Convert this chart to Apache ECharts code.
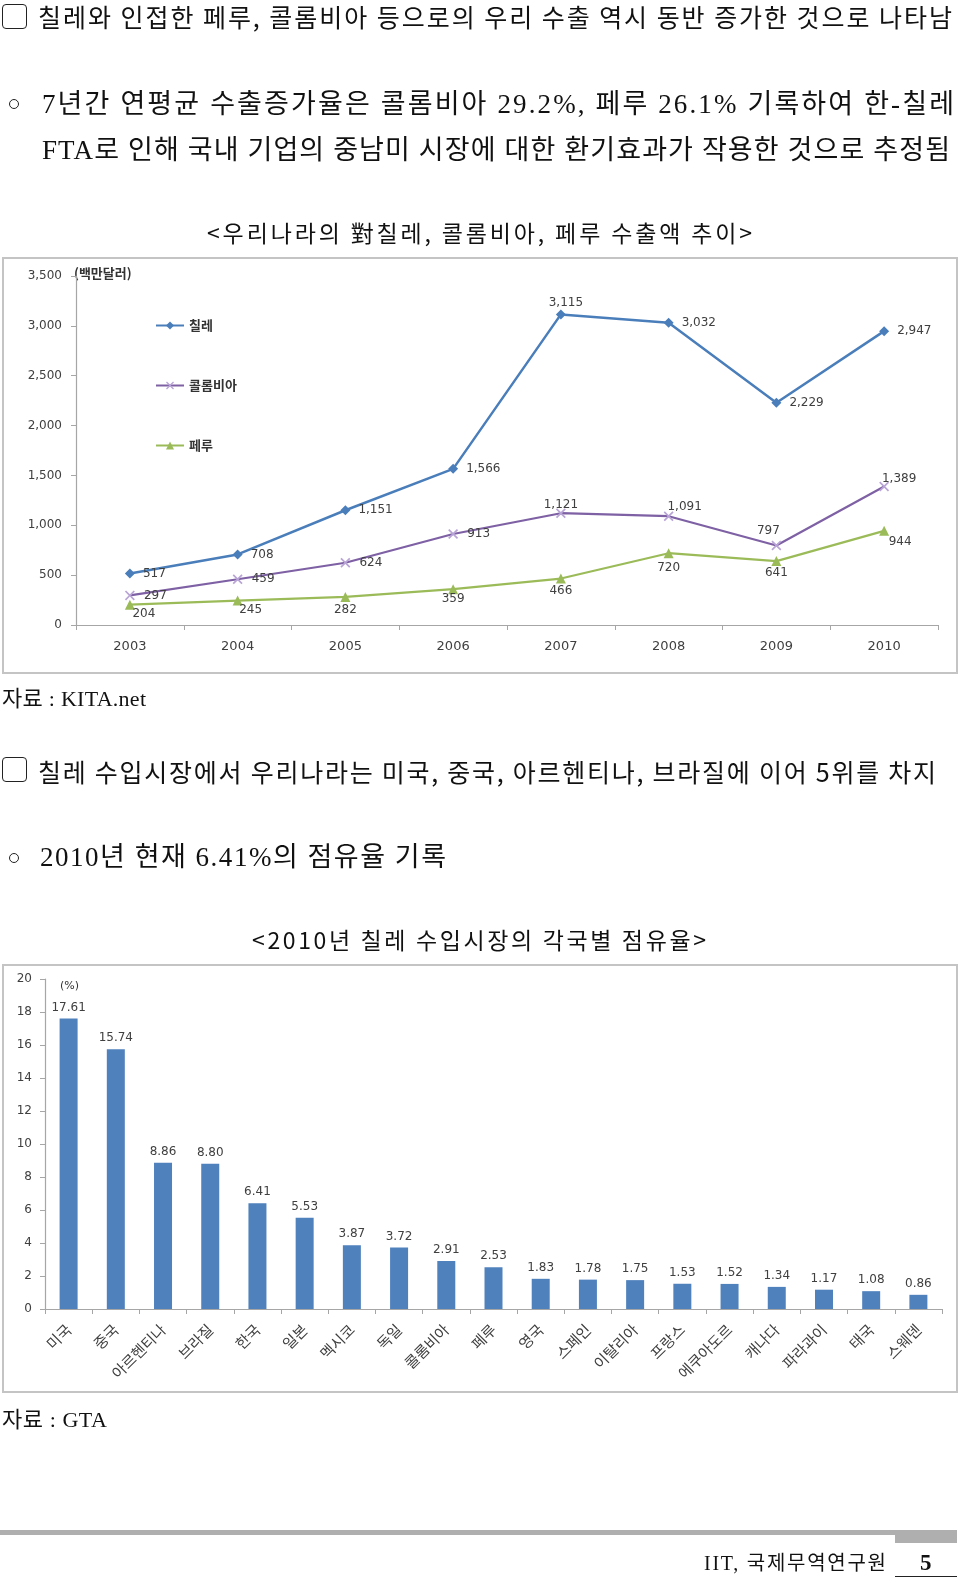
<!DOCTYPE html>
<html><head><meta charset="utf-8">
<script src="https://cdn.jsdelivr.net/npm/echarts@6/dist/echarts.min.js"></script>
<style>
html,body{margin:0;padding:0;background:#fff;}
#page{position:relative;width:960px;height:1578px;overflow:hidden;background:#fff;}
#chart{position:absolute;left:0;top:0;width:960px;height:1578px;}
.t{position:absolute;white-space:nowrap;color:#111;}
.sans{font-family:"Noto Sans CJK KR",sans-serif;}
.serif{font-family:"Liberation Serif","Noto Sans CJK KR",serif;}
.box{position:absolute;border:1.6px solid #222;border-radius:4px;box-sizing:border-box;}
.circ{position:absolute;border:1.4px solid #222;border-radius:50%;box-sizing:border-box;}
.bar{position:absolute;background:#AFAFAF;}
</style></head>
<body>
<div id="page">
<div id="chart"></div>
<div class="box" style="left:2px;top:4px;width:25px;height:25px"></div>
<div class="t sans" data-l="38" data-r="952" data-c="16" data-fs="25">칠레와 인접한 페루, 콜롬비아 등으로의 우리 수출 역시 동반 증가한 것으로 나타남</div>
<div class="circ" style="left:9px;top:99px;width:10px;height:10px"></div>
<div class="t serif" data-l="42" data-r="954" data-c="104" data-fs="27">7년간 연평균 수출증가율은 콜롬비아 29.2%, 페루 26.1% 기록하여 한-칠레</div>
<div class="t serif" data-l="42" data-r="950" data-c="150" data-fs="27">FTA로 인해 국내 기업의 중남미 시장에 대한 환기효과가 작용한 것으로 추정됨</div>
<div class="t sans" data-l="207" data-r="752" data-c="232" data-fs="23">&lt;우리나라의 對칠레, 콜롬비아, 페루 수출액 추이&gt;</div>
<div class="t serif" data-l="2" data-r="146" data-c="698" data-fs="22">자료 : KITA.net</div>
<div class="box" style="left:2px;top:757px;width:25px;height:25px"></div>
<div class="t sans" data-l="38" data-r="936" data-c="771" data-fs="25">칠레 수입시장에서 우리나라는 미국, 중국, 아르헨티나, 브라질에 이어 5위를 차지</div>
<div class="circ" style="left:9px;top:853px;width:10px;height:10px"></div>
<div class="t serif" data-l="40" data-r="446" data-c="857" data-fs="27">2010년 현재 6.41%의 점유율 기록</div>
<div class="t sans" data-l="252" data-r="706" data-c="939" data-fs="23">&lt;2010년 칠레 수입시장의 각국별 점유율&gt;</div>
<div class="t serif" data-l="2" data-r="107" data-c="1419" data-fs="22">자료 : GTA</div>
<div class="bar" style="left:0;top:1530px;width:895px;height:5px"></div>
<div class="bar" style="left:895px;top:1530px;width:62px;height:13px"></div>
<div class="t serif" data-l="704" data-r="886" data-c="1563" data-fs="20">IIT, 국제무역연구원</div>
<div class="t serif" style="left:920px;top:1549px;font-size:23px;line-height:28px;font-weight:bold;">5</div>
<div style="position:absolute;left:895px;top:1576px;width:62px;height:1px;background:#222"></div>
</div>
<script>
// ---- data ----
const years = ['2003','2004','2005','2006','2007','2008','2009','2010'];
const chile = [517, 708, 1151, 1566, 3115, 3032, 2229, 2947];
const colombia = [297, 459, 624, 913, 1121, 1091, 797, 1389];
const peru = [204, 245, 282, 359, 466, 720, 641, 944];
const seriesNames = ['칠레', '콜롬비아', '페루'];

const countries = ['미국','중국','아르헨티나','브라질','한국','일본','멕시코','독일','콜롬비아','페루','영국','스페인','이탈리아','프랑스','에쿠아도르','캐나다','파라과이','태국','스웨덴'];
const shares = [17.61, 15.74, 8.86, 8.80, 6.41, 5.53, 3.87, 3.72, 2.91, 2.53, 1.83, 1.78, 1.75, 1.53, 1.52, 1.34, 1.17, 1.08, 0.86];

// ---- text fitting ----
document.querySelectorAll('.t[data-l]').forEach(el => {
  const fs = +el.dataset.fs, l = +el.dataset.l, r = +el.dataset.r, c = +el.dataset.c;
  const lh = Math.round(fs * 1.4);
  el.style.fontSize = fs + 'px';
  el.style.lineHeight = lh + 'px';
  el.style.left = l + 'px';
  el.style.top = (c - lh / 2) + 'px';
  el.style.letterSpacing = '0px';
  const w = el.getBoundingClientRect().width;
  const n = [...el.textContent].length;
  const ls = (r - l - w) / (n - 1);
  el.style.letterSpacing = ls + 'px';
});

// ---- chart ----
const chart = echarts.init(document.getElementById('chart'), null, {width: 960, height: 1578});
const axisColor = '#A6A6A6';
const lblColor = '#404040';
const numFont = 'DejaVu Sans';
const krFont = 'Noto Sans CJK KR';

const R8 = {position: 'right', distance: 8};
const R9 = {position: 'right', distance: 9};
const chileLab = [R8, R8, R8, R8, {position: 'top', distance: 0.5, offset: [5, 0]}, R8, R8, R8];
const colLab = [R9, R9, R9, R9,
  {position: 'top', distance: -2.5},
  {position: 'top', distance: -1.5, offset: [16, 0]},
  {position: 'top', distance: 3.5, offset: [-8, 0]},
  {position: 'top', distance: -3, offset: [15, 0]}];
const peruLab = [
  {position: 'bottom', distance: -1.5, offset: [14, 0]},
  {position: 'bottom', distance: -1.5, offset: [13, 0]},
  {position: 'bottom', distance: 1.5},
  {position: 'bottom', distance: -1.5},
  {position: 'bottom', distance: 1.5},
  {position: 'bottom', distance: 3.5},
  {position: 'bottom', distance: 0.5},
  {position: 'bottom', distance: 0.5, offset: [16, 0]}];

const withLabels = (vals, spec) => vals.map((v, i) => ({value: v, label: spec[i]}));
const fmtThousands = v => Number(v).toLocaleString('en-US');
const baseLabel = {show: true, color: lblColor, fontSize: 12, fontFamily: numFont, formatter: p => fmtThousands(p.value)};

const crossPath = 'path://M0,1.2L1.2,0L5,3.8L8.8,0L10,1.2L6.2,5L10,8.8L8.8,10L5,6.2L1.2,10L0,8.8L3.8,5Z';

chart.setOption({
  animation: false,
  backgroundColor: 'transparent',
  graphic: [
    {type: 'rect', shape: {x: 3, y: 258, width: 954, height: 415}, style: {fill: 'none', stroke: '#C4C4C4', lineWidth: 2}, z: -1},
    {type: 'rect', shape: {x: 3, y: 965, width: 954, height: 427}, style: {fill: 'none', stroke: '#C4C4C4', lineWidth: 2}, z: -1},
    {type: 'text', left: 74, top: 267, style: {text: '(백만달러)', fill: '#333', font: 'bold 13px "Noto Sans CJK KR"'}},
    {type: 'text', left: 60, top: 981, style: {text: '(%)', fill: '#333', font: '11px "DejaVu Sans"'}}
  ],
  legend: {
    data: seriesNames,
    orient: 'vertical',
    left: 150, top: 314,
    itemWidth: 28, itemHeight: 10, itemGap: 47,
    textStyle: {color: '#333', fontSize: 13, fontWeight: 'bold', fontFamily: krFont}
  },
  grid: [
    {left: 76, top: 276, width: 862, height: 349},
    {left: 45, top: 979, width: 897, height: 330}
  ],
  xAxis: [
    {type: 'category', gridIndex: 0, data: years, boundaryGap: true,
     axisLine: {lineStyle: {color: axisColor, width: 1.2}},
     axisTick: {show: true, length: 5, lineStyle: {color: axisColor}},
     axisLabel: {color: lblColor, fontSize: 13, fontFamily: numFont, margin: 15}},
    {type: 'category', gridIndex: 1, data: countries, boundaryGap: true,
     axisLine: {lineStyle: {color: axisColor, width: 1.2}},
     axisTick: {show: true, length: 5, lineStyle: {color: axisColor}},
     axisLabel: {color: lblColor, fontSize: 15, fontFamily: krFont, rotate: 45, interval: 0, margin: 18}}
  ],
  yAxis: [
    {type: 'value', gridIndex: 0, min: 0, max: 3500, interval: 500,
     splitLine: {show: false},
     axisLine: {show: true, lineStyle: {color: axisColor, width: 1.2}},
     axisTick: {show: true, length: 5, lineStyle: {color: axisColor}},
     axisLabel: {color: lblColor, fontSize: 12, fontFamily: numFont, margin: 14, formatter: v => fmtThousands(v)}},
    {type: 'value', gridIndex: 1, min: 0, max: 20, interval: 2,
     splitLine: {show: false},
     axisLine: {show: true, lineStyle: {color: axisColor, width: 1.2}},
     axisTick: {show: true, length: 5, lineStyle: {color: axisColor}},
     axisLabel: {color: lblColor, fontSize: 12, fontFamily: numFont, margin: 13}}
  ],
  series: [
    {name: seriesNames[0], type: 'line', xAxisIndex: 0, yAxisIndex: 0, z: 4,
     data: withLabels(chile, chileLab),
     symbol: 'diamond', symbolSize: 10,
     lineStyle: {color: '#4A7EBB', width: 2.5},
     itemStyle: {color: '#4A7EBB'},
     label: baseLabel},
    {name: seriesNames[1], type: 'line', xAxisIndex: 0, yAxisIndex: 0, z: 3,
     data: withLabels(colombia, colLab),
     symbol: crossPath, symbolSize: 10,
     lineStyle: {color: '#7E60A4', width: 2.2},
     itemStyle: {color: '#B9A4D6'},
     label: baseLabel},
    {name: seriesNames[2], type: 'line', xAxisIndex: 0, yAxisIndex: 0, z: 2,
     data: withLabels(peru, peruLab),
     symbol: 'triangle', symbolSize: 10,
     lineStyle: {color: '#9BBB59', width: 2.2},
     itemStyle: {color: '#9BBB59'},
     label: baseLabel},
    {name: '점유율', type: 'bar', xAxisIndex: 1, yAxisIndex: 1,
     data: shares, barWidth: 18,
     itemStyle: {color: '#4F81BD'},
     label: {show: true, position: 'top', distance: 5, color: lblColor, fontSize: 12, fontFamily: numFont,
             formatter: p => p.value.toFixed(2)}}
  ]
});
</script>
</body></html>
